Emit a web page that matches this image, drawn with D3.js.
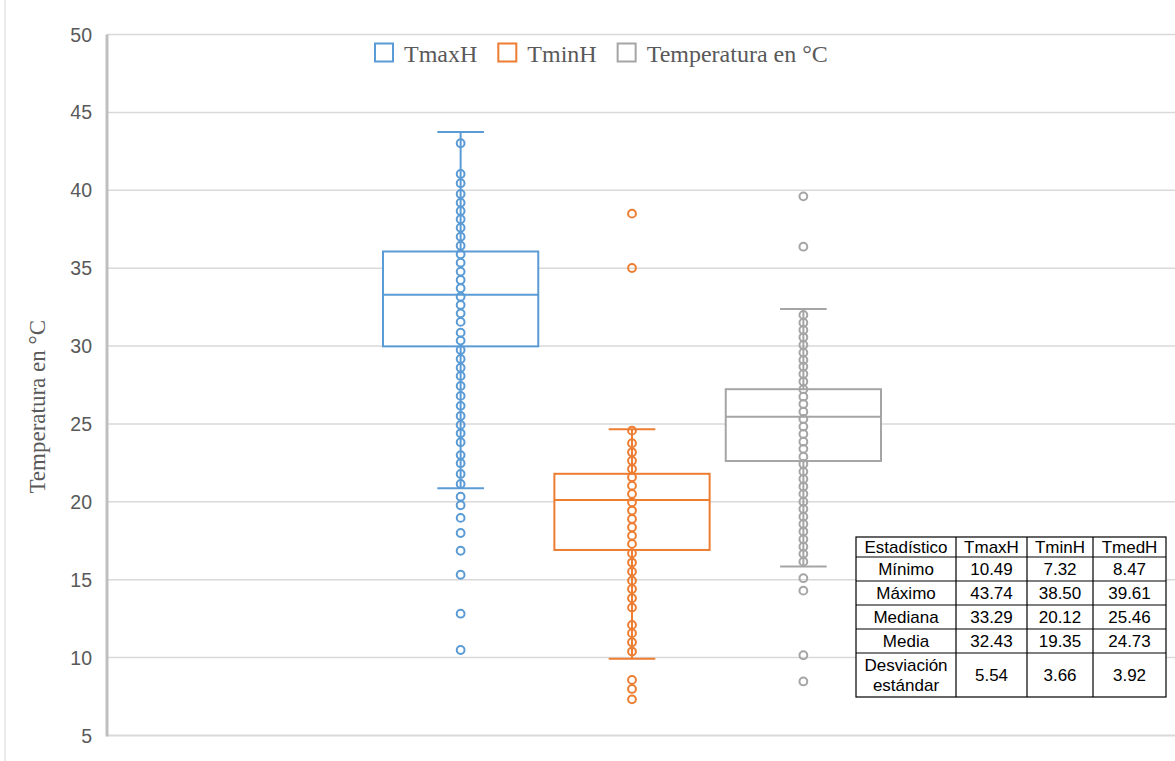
<!DOCTYPE html>
<html>
<head>
<meta charset="utf-8">
<script src="https://cdn.jsdelivr.net/npm/d3@7"></script>
<style>
  html, body { margin: 0; padding: 0; background: #fff; }
  svg { display: block; }
</style>
</head>
<body>
<svg id="chart" width="1175" height="761"></svg>
<script>
// series and box statistics
const series = ["TmaxH", "TminH", "Temperatura en °C"];
const seriesColors = ["#5b9bd5", "#ed7d31", "#a5a5a5"];
const q1Values = [29.98, 16.91, 22.62];
const medianValues = [33.29, 20.12, 25.46];
const q3Values = [36.07, 21.80, 27.23];
const whiskerLow = [20.87, 9.92, 15.85];
const whiskerHigh = [43.74, 24.66, 32.38];

// points
const tmaxPoints = [43.02, 41.05, 40.45, 39.76, 39.20, 38.67, 38.14, 37.60, 37.02, 36.44,
  35.89, 35.35, 34.78, 34.24, 33.71, 33.17, 32.64, 32.10, 31.55, 30.86, 30.35, 29.75,
  29.17, 28.61, 28.08, 27.44, 26.80, 26.16, 25.51, 24.94, 24.40, 23.83, 23.00, 22.48,
  21.79, 21.15, 20.33, 19.78, 18.97, 18.00, 16.86, 15.32, 12.82, 10.49];
const tminPoints = [38.50, 35.01, 24.57, 23.76, 23.18, 22.64, 22.11, 21.58, 21.04, 20.51,
  19.97, 19.44, 18.90, 18.37, 17.83, 17.30, 16.70, 16.10, 15.52, 14.94, 14.41, 13.81,
  13.21, 12.10, 11.57, 10.99, 10.39, 8.57, 7.99, 7.32];
const tmedPoints = [39.61, 36.38, 32.00, 31.50, 31.03, 30.56, 30.07, 29.58, 29.11, 28.68,
  28.21, 27.72, 27.23, 26.75, 26.28, 25.79, 25.32, 24.83, 24.36, 23.86, 23.40, 22.90,
  22.43, 21.94, 21.47, 20.98, 20.51, 20.01, 19.54, 19.05, 18.58, 18.09, 17.60, 17.12,
  16.66, 16.16, 15.10, 14.30, 10.15, 8.47];
const allPoints = [tmaxPoints, tminPoints, tmedPoints];

const yTicks = [5, 10, 15, 20, 25, 30, 35, 40, 45, 50];
const yTitle = "Temperatura en °C";

// summary table
const tableHeader = ["Estadístico", "TmaxH", "TminH", "TmedH"];
const tableRows = [
  ["Mínimo", "10.49", "7.32", "8.47"],
  ["Máximo", "43.74", "38.50", "39.61"],
  ["Mediana", "33.29", "20.12", "25.46"],
  ["Media", "32.43", "19.35", "24.73"],
  [["Desviación", "estándar"], "5.54", "3.66", "3.92"]
];

const svg = d3.select("#chart");
const W = 1175, H = 761;
const plotLeft = 107, plotRight = 1175;
const textColor = "#595959";

const y = d3.scaleLinear().domain([5, 50]).range([735.5, 34.5]);
const x = d3.scaleBand().domain(series).range([383, 881]).paddingInner(0.094).paddingOuter(0);

// faint frame line on the left edge
svg.append("line")
    .attr("x1", 5).attr("x2", 5).attr("y1", 0).attr("y2", H)
    .attr("stroke", "#d9d9d9").attr("stroke-width", 1);

// gridlines
svg.append("g").selectAll("line")
    .data(yTicks.filter(t => t !== 5))
    .enter().append("line")
    .attr("x1", plotLeft).attr("x2", plotRight)
    .attr("y1", d => y(d)).attr("y2", d => y(d))
    .attr("stroke", "#d9d9d9").attr("stroke-width", 1.5);

// bottom axis line and left axis line
svg.append("line")
    .attr("x1", plotLeft).attr("x2", plotRight)
    .attr("y1", y(5)).attr("y2", y(5))
    .attr("stroke", "#d9d9d9").attr("stroke-width", 2);
svg.append("line")
    .attr("x1", plotLeft).attr("x2", plotLeft)
    .attr("y1", y(50)).attr("y2", y(5) + 1)
    .attr("stroke", "#bfbfbf").attr("stroke-width", 3);

// tick labels
svg.append("g").selectAll("text")
    .data(yTicks)
    .enter().append("text")
    .attr("x", 92).attr("y", d => y(d)).attr("dy", "0.36em")
    .attr("text-anchor", "end")
    .attr("fill", textColor)
    .style("font-family", "'Liberation Sans', Arial, sans-serif")
    .style("font-size", "19.5px")
    .text(d => d);

// y title
svg.append("text")
    .attr("transform", `translate(45,${y(26.1)}) rotate(-90)`)
    .attr("text-anchor", "middle")
    .attr("fill", textColor)
    .style("font-family", "'Liberation Serif', 'Times New Roman', serif")
    .style("font-size", "23px")
    .text(yTitle);

// boxes
const bw = x.bandwidth();
const capW = bw * 0.3;
series.forEach((s, i) => {
    const cx = x(s) + bw / 2;
    const col = seriesColors[i];
    const g = svg.append("g");

    g.append("line")
        .attr("x1", cx).attr("x2", cx)
        .attr("y1", y(whiskerHigh[i])).attr("y2", y(q3Values[i]))
        .attr("stroke", col).attr("stroke-width", 2);
    g.append("line")
        .attr("x1", cx).attr("x2", cx)
        .attr("y1", y(q1Values[i])).attr("y2", y(whiskerLow[i]))
        .attr("stroke", col).attr("stroke-width", 2);
    g.selectAll(".cap")
        .data([whiskerHigh[i], whiskerLow[i]])
        .enter().append("line")
        .attr("x1", cx - capW / 2).attr("x2", cx + capW / 2)
        .attr("y1", d => y(d)).attr("y2", d => y(d))
        .attr("stroke", col).attr("stroke-width", 2);

    g.append("rect")
        .attr("x", x(s)).attr("width", bw)
        .attr("y", y(q3Values[i]))
        .attr("height", y(q1Values[i]) - y(q3Values[i]))
        .attr("fill", "#fff")
        .attr("stroke", col).attr("stroke-width", 2);
    g.append("line")
        .attr("x1", x(s)).attr("x2", x(s) + bw)
        .attr("y1", y(medianValues[i])).attr("y2", y(medianValues[i]))
        .attr("stroke", col).attr("stroke-width", 2);

    g.selectAll("circle")
        .data(allPoints[i])
        .enter().append("circle")
        .attr("cx", cx).attr("cy", d => y(d))
        .attr("r", 3.9)
        .attr("fill", "none")
        .attr("stroke", col).attr("stroke-width", 2);
});

// legend
const legend = svg.append("g");
let lx = 374;
series.forEach((s, i) => {
    legend.append("rect")
        .attr("x", lx + 1).attr("y", 43.5)
        .attr("width", 18).attr("height", 18)
        .attr("fill", "#fff")
        .attr("stroke", seriesColors[i]).attr("stroke-width", 2);
    const t = legend.append("text")
        .attr("x", lx + 30).attr("y", 62)
        .attr("fill", textColor)
        .style("font-family", "'Liberation Serif', 'Times New Roman', serif")
        .style("font-size", "24px")
        .text(s);
    lx += 30 + t.node().getComputedTextLength() + 20;
});

// statistics table
const colEdges = [856, 956, 1027, 1093, 1166];
const rowEdges = [537, 557, 581, 605, 629, 653, 697];
const table = svg.append("g")
    .style("font-family", "'Liberation Sans', Arial, sans-serif")
    .style("font-size", "17px");
table.append("rect")
    .attr("x", colEdges[0]).attr("y", rowEdges[0])
    .attr("width", colEdges[4] - colEdges[0])
    .attr("height", rowEdges[6] - rowEdges[0])
    .attr("fill", "#fff").attr("stroke", "#000").attr("stroke-width", 1.2);
table.selectAll(".rowline")
    .data(rowEdges.slice(1, -1))
    .enter().append("line")
    .attr("x1", colEdges[0]).attr("x2", colEdges[4])
    .attr("y1", d => d).attr("y2", d => d)
    .attr("stroke", "#000").attr("stroke-width", 1.2);
table.selectAll(".colline")
    .data(colEdges.slice(1, -1))
    .enter().append("line")
    .attr("x1", d => d).attr("x2", d => d)
    .attr("y1", rowEdges[0]).attr("y2", rowEdges[6])
    .attr("stroke", "#000").attr("stroke-width", 1.2);

[tableHeader].concat(tableRows).forEach((row, r) => {
    const top = rowEdges[r], bottom = rowEdges[r + 1];
    row.forEach((cell, c) => {
        const cxT = (colEdges[c] + colEdges[c + 1]) / 2;
        const lines = Array.isArray(cell) ? cell : [cell];
        const mid = (top + bottom) / 2;
        lines.forEach((ln, k) => {
            table.append("text")
                .attr("x", cxT)
                .attr("y", mid + (k - (lines.length - 1) / 2) * 20)
                .attr("dy", "0.36em")
                .attr("text-anchor", "middle")
                .attr("fill", "#000")
                .text(ln);
        });
    });
});
</script>
</body>
</html>
